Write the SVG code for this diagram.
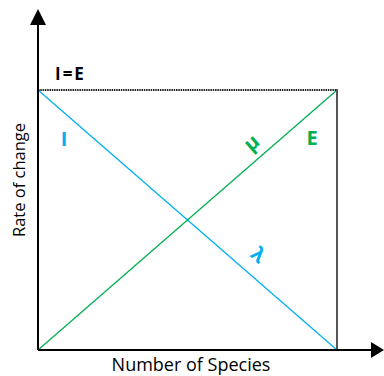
<svg xmlns="http://www.w3.org/2000/svg" width="384" height="376" viewBox="0 0 384 376">
<style>
.ax{stroke:#000;stroke-width:2;fill:none}
.t{font-family:"Open Sans","Noto Sans",sans-serif;fill:#000}
.b{font-family:"Open Sans","Noto Sans",sans-serif;font-weight:bold}
</style>
<rect width="384" height="376" fill="#fff"/>
<g id="connectors">
<line x1="38" y1="90" x2="337" y2="350" stroke="#00B0F0" stroke-width="1.3"/>
<line x1="38" y1="350" x2="337" y2="90" stroke="#00B050" stroke-width="1.3"/>
<line x1="38" y1="90" x2="337" y2="90" stroke="#222" stroke-width="2" stroke-dasharray="1.5 0.8"/>
<line x1="337" y1="89" x2="337" y2="350" stroke="#555" stroke-width="2"/>
<line x1="38" y1="350" x2="373" y2="350" class="ax"/>
<line x1="38" y1="350" x2="38" y2="24" class="ax"/>
<polygon points="30,25 46,25 38,9" fill="#000"/>
<polygon points="371,342 371,358 384,350" fill="#000"/>
</g>
<g id="labels">
<text class="b" x="55" y="80" font-size="17" letter-spacing="2" fill="#000">I=E</text>
<text class="b" x="64" y="146" font-size="20" fill="#00B0F0" text-anchor="middle">I</text>
<text class="b" x="312" y="145" font-size="20" fill="#00B050" text-anchor="middle">E</text>
<text class="b" font-size="20" fill="#00B050" text-anchor="middle" transform="translate(256,148) rotate(-41)">μ</text>
<text class="b" font-size="20" fill="#00B0F0" text-anchor="middle" transform="translate(254,260) rotate(41)">λ</text>
<text class="t" x="191" y="371" font-size="18" text-anchor="middle">Number of Species</text>
<text class="t" font-size="16.5" text-anchor="middle" transform="translate(25,180) rotate(-90)">Rate of change</text>
</g>
</svg>
